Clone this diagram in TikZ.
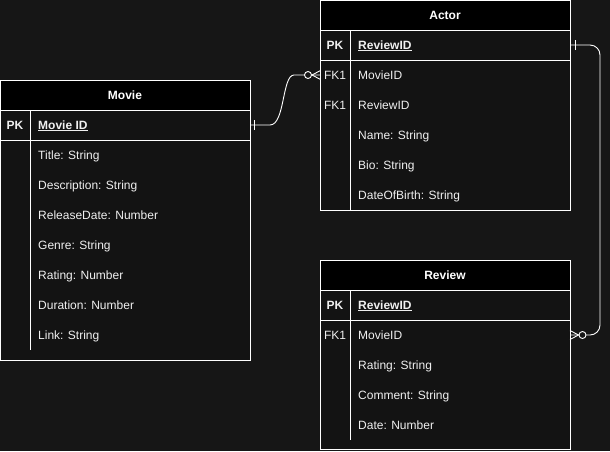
\documentclass[tikz,border=0pt]{standalone}
\usepackage{fontspec}
\setmainfont{Liberation Sans}
\definecolor{bg}{HTML}{161616}
\definecolor{body}{HTML}{131313}
\definecolor{txt}{HTML}{F0F0F0}
\tikzset{
  every node/.style={font=\fontsize{12}{14}\selectfont, text=txt, inner sep=0pt, text height=9pt, text depth=1pt},
  hdr/.style={font=\fontsize{12}{14}\selectfont\bfseries, text=white},
  keylbl/.style={font=\fontsize{12}{14}\selectfont\bfseries},
  keyfld/.style={anchor=west, font=\fontsize{12}{14}\selectfont\bfseries},
  fld/.style={anchor=west},
  border/.style={draw=white, line width=0.9pt},
  conn/.style={draw=white, line width=0.9pt},
  endcircle/.style={draw=white, fill=bg, line width=0.9pt, text height=, text depth=}
}
\begin{document}
\begin{tikzpicture}[x=1pt,y=-1pt]
\useasboundingbox[fill=bg] (0,0) rectangle (610,451);

% ---------- Movie ----------
\fill[body] (0.5,80) rectangle (250,360);
\fill[black] (0.5,80) rectangle (250,110);
\draw[border] (0.5,80) rectangle (250,360);
\draw[border] (0.5,110) -- (250,110);
\draw[border] (0.5,140) -- (250,140);
\draw[border] (30,110) -- (30,350);
\node[hdr] (movieT) at (125,95) {Movie};
\node[keylbl] (moviePK) at (15,125) {PK};
\node[keyfld] (movieID) at (38,125) {\underline{Movie ID}};
\node[fld] (mTitle) at (38,155) {Title: String};
\node[fld] (mDesc) at (38,185) {Description: String};
\node[fld] (mRel) at (38,215) {ReleaseDate: Number};
\node[fld] (mGenre) at (38,245) {Genre: String};
\node[fld] (mRating) at (38,275) {Rating: Number};
\node[fld] (mDur) at (38,305) {Duration: Number};
\node[fld] (mLink) at (38,335) {Link: String};

% ---------- Actor ----------
\fill[body] (320.5,0.5) rectangle (570,210);
\fill[black] (320.5,0.5) rectangle (570,30);
\draw[border] (320.5,0.5) rectangle (570,210);
\draw[border] (320.5,30) -- (570,30);
\draw[border] (320.5,60) -- (570,60);
\draw[border] (350,30) -- (350,210);
\node[hdr] (actorT) at (445,15) {Actor};
\node[keylbl] (actorPK) at (335,45) {PK};
\node[keyfld] (actorID) at (358,45) {\underline{ReviewID}};
\node (aFK1a) at (335,75) {FK1};
\node[fld] (aMovie) at (358,75) {MovieID};
\node (aFK1b) at (335,105) {FK1};
\node[fld] (aReview) at (358,105) {ReviewID};
\node[fld] (aName) at (358,135) {Name: String};
\node[fld] (aBio) at (358,165) {Bio: String};
\node[fld] (aDob) at (358,195) {DateOfBirth: String};

% ---------- Review ----------
\fill[body] (320.5,260) rectangle (570,449.5);
\fill[black] (320.5,260) rectangle (570,290);
\draw[border] (320.5,260) rectangle (570,449.5);
\draw[border] (320.5,290) -- (570,290);
\draw[border] (320.5,320) -- (570,320);
\draw[border] (350,290) -- (350,440);
\node[hdr] (reviewT) at (445,275) {Review};
\node[keylbl] (reviewPK) at (335,305) {PK};
\node[keyfld] (reviewID) at (358,305) {\underline{ReviewID}};
\node (rFK1) at (335,335) {FK1};
\node[fld] (rMovie) at (358,335) {MovieID};
\node[fld] (rRating) at (358,365) {Rating: String};
\node[fld] (rComment) at (358,395) {Comment: String};
\node[fld] (rDate) at (358,425) {Date: Number};

% ---------- connector ends ----------
\coordinate (m1) at (250,125);
\coordinate (a1) at (320.5,75);
\coordinate (a0) at (570,45);
\coordinate (r1) at (570,335);

% Movie (one) -> Actor (zero or many)
\draw[conn] (m1) -- (270,125) .. controls (285,125) and (282,75) .. (294,75) -- (a1);
\draw[conn] (254,120) -- (254,130);
\draw[conn] (312,75) -- (320.5,70.5);
\draw[conn] (312,75) -- (320.5,79.5);
\node[endcircle, circle, minimum size=7pt] (c1) at (308,75) {};

% Actor (one) -> Review (zero or many)
\draw[conn, rounded corners=10pt] (a0) -- (600,45) -- (600,335) -- (r1);
\draw[conn] (575,40) -- (575,50);
\draw[conn] (578.5,335) -- (570,330.5);
\draw[conn] (578.5,335) -- (570,339.5);
\node[endcircle, circle, minimum size=7pt] (c2) at (582.5,335) {};
\end{tikzpicture}
\end{document}
